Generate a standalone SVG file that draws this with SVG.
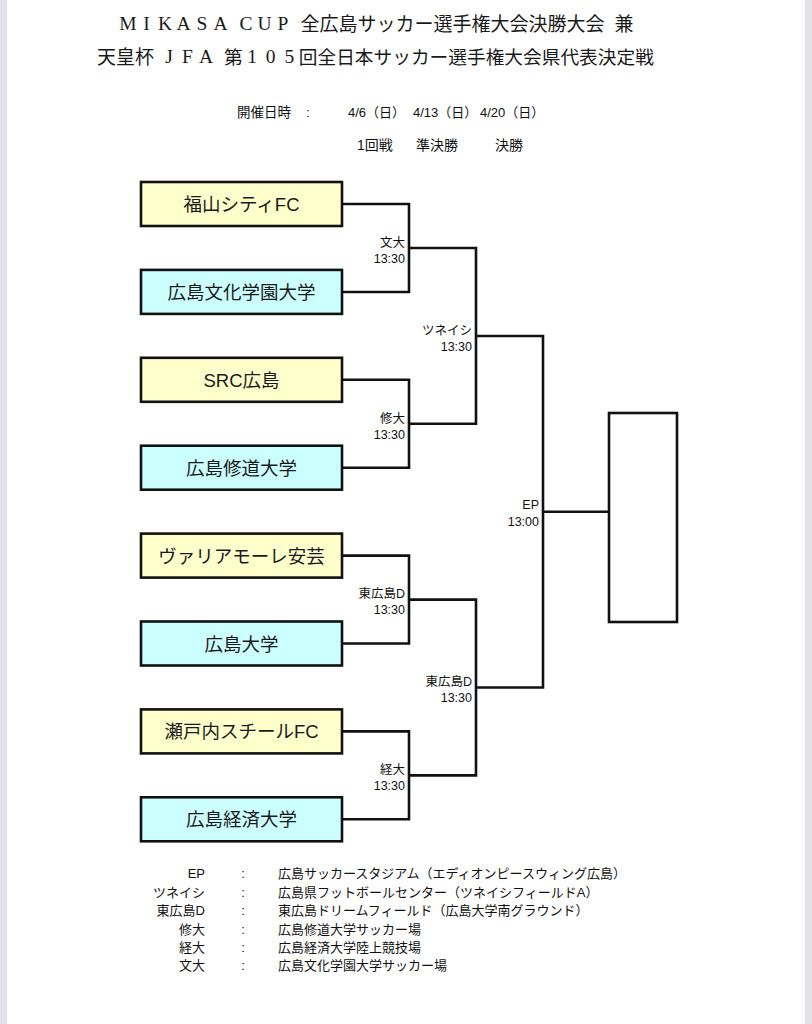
<svg xmlns="http://www.w3.org/2000/svg" width="812" height="1024" viewBox="0 0 812 1024">
  <style>
    .serif { font-family: "Liberation Serif", "Noto Sans CJK JP", serif; fill: #1a1a1a; }
    .cjkt { font-family: "Noto Sans CJK JP", "Liberation Serif", serif; fill: #1a1a1a; font-size: 19px; }
    .sans { font-family: "Liberation Sans", "Noto Sans CJK JP", sans-serif; fill: #111; }
    .team { font-family: "Liberation Sans", "Noto Sans CJK JP", sans-serif; font-size: 18.5px; fill: #1a1a1a; text-anchor: middle; }
    .lbl { font-family: "Liberation Sans", "Noto Sans CJK JP", sans-serif; font-size: 12.5px; fill: #111; text-anchor: end; }
    .leg { font-family: "Liberation Sans", "Noto Sans CJK JP", sans-serif; font-size: 13px; fill: #111; }
    .box { stroke: #111; stroke-width: 2.6; }
    .yel { fill: #FFFFCC; }
    .cya { fill: #CCFFFF; }
    .wire { fill: none; stroke: #111; stroke-width: 2.6; stroke-linejoin: miter; }
  </style>

  <rect x="0" y="0" width="812" height="1024" fill="#ffffff"/>
  <rect x="0" y="0" width="7" height="1024" fill="#e3e3e7"/>
  <rect x="805" y="0" width="7" height="1024" fill="#e3e3e7"/>

  <g id="title">
    <text class="serif" font-size="19.5" y="30" text-anchor="middle" x="128 146.5 165 183.5 202 220.5 246 264.5 283">MIKASACUP</text>
    <text class="cjkt" x="300.5" y="31">全広島サッカー選手権大会決勝大会</text>
    <text class="cjkt" x="614.5" y="31">兼</text>
    <text class="cjkt" x="97" y="64">天皇杯</text>
    <text class="serif" font-size="19.5" y="63" text-anchor="middle" x="169 187.5 206">JFA</text>
    <text class="cjkt" x="224" y="64" style="font-size:18.7px">第</text>
    <text class="serif" font-size="19.5" y="63" text-anchor="middle" x="252 270.7 289.4">105</text>
    <text class="cjkt" x="298.8" y="64" style="font-size:18.7px">回全日本サッカー選手権大会県代表決定戦</text>
  </g>

  <g id="schedule">
    <text class="sans" font-size="13.5" x="237" y="117">開催日時</text>
    <text class="sans" font-size="13.5" x="306" y="117">:</text>
    <text class="sans" font-size="13" x="348" y="117">4/6（日）</text>
    <text class="sans" font-size="13" x="413" y="117">4/13（日）</text>
    <text class="sans" font-size="13" x="480" y="117">4/20（日）</text>
    <text class="sans" font-size="14" x="357" y="150">1回戦</text>
    <text class="sans" font-size="14" x="416" y="150">準決勝</text>
    <text class="sans" font-size="14" x="495" y="150">決勝</text>
  </g>

  <g id="connectors">
    <path class="wire" d="M342 204 H409 V292 H342"/>
    <path class="wire" d="M342 379.8 H409 V467.7 H342"/>
    <path class="wire" d="M342 555.6 H409 V643.5 H342"/>
    <path class="wire" d="M342 731.4 H409 V819.3 H342"/>
    <path class="wire" d="M409 248 H476 V423.8 H409"/>
    <path class="wire" d="M409 599.6 H476 V775.4 H409"/>
    <path class="wire" d="M476 336 H543 V687.5 H476"/>
    <path class="wire" d="M543 511.8 H609"/>
  </g>

  <g id="team1"><rect class="box yel" x="141" y="182" width="201" height="44"/><text class="team" x="241.5" y="211">福山シティFC</text></g>
  <g id="team2"><rect class="box cya" x="141" y="269.9" width="201" height="44"/><text class="team" x="241.5" y="298.9">広島文化学園大学</text></g>
  <g id="team3"><rect class="box yel" x="141" y="357.8" width="201" height="44"/><text class="team" x="241.5" y="386.8">SRC広島</text></g>
  <g id="team4"><rect class="box cya" x="141" y="445.7" width="201" height="44"/><text class="team" x="241.5" y="474.7">広島修道大学</text></g>
  <g id="team5"><rect class="box yel" x="141" y="533.6" width="201" height="44"/><text class="team" x="241.5" y="562.6">ヴァリアモーレ安芸</text></g>
  <g id="team6"><rect class="box cya" x="141" y="621.5" width="201" height="44"/><text class="team" x="241.5" y="650.5">広島大学</text></g>
  <g id="team7"><rect class="box yel" x="141" y="709.4" width="201" height="44"/><text class="team" x="241.5" y="738.4">瀬戸内スチールFC</text></g>
  <g id="team8"><rect class="box cya" x="141" y="797.3" width="201" height="44"/><text class="team" x="241.5" y="826.3">広島経済大学</text></g>

  <g id="champion"><rect class="box" fill="#ffffff" x="609" y="413" width="68" height="209"/></g>

  <g id="match-labels">
    <text class="lbl" x="405" y="246.5">文大</text><text class="lbl" x="405" y="262.5">13:30</text>
    <text class="lbl" x="405" y="422.5">修大</text><text class="lbl" x="405" y="438.5">13:30</text>
    <text class="lbl" x="405" y="598">東広島D</text><text class="lbl" x="405" y="614">13:30</text>
    <text class="lbl" x="405" y="774">経大</text><text class="lbl" x="405" y="790">13:30</text>
    <text class="lbl" x="472" y="334.5">ツネイシ</text><text class="lbl" x="472" y="350.5">13:30</text>
    <text class="lbl" x="472" y="686">東広島D</text><text class="lbl" x="472" y="702">13:30</text>
    <text class="lbl" x="539" y="509">EP</text><text class="lbl" x="539" y="526">13:00</text>
  </g>

  <g id="legend">
    <text class="leg" x="205" y="878" text-anchor="end">EP</text>
    <text class="leg" x="205" y="896.5" text-anchor="end">ツネイシ</text>
    <text class="leg" x="205" y="915" text-anchor="end">東広島D</text>
    <text class="leg" x="205" y="933.5" text-anchor="end">修大</text>
    <text class="leg" x="205" y="952" text-anchor="end">経大</text>
    <text class="leg" x="205" y="970" text-anchor="end">文大</text>
    <text class="leg" x="243" y="878" text-anchor="middle">:</text>
    <text class="leg" x="243" y="896.5" text-anchor="middle">:</text>
    <text class="leg" x="243" y="915" text-anchor="middle">:</text>
    <text class="leg" x="243" y="933.5" text-anchor="middle">:</text>
    <text class="leg" x="243" y="952" text-anchor="middle">:</text>
    <text class="leg" x="243" y="970" text-anchor="middle">:</text>
    <text class="leg" x="278" y="878">広島サッカースタジアム（エディオンピースウィング広島）</text>
    <text class="leg" x="278" y="896.5">広島県フットボールセンター（ツネイシフィールドA）</text>
    <text class="leg" x="278" y="915">東広島ドリームフィールド（広島大学南グラウンド）</text>
    <text class="leg" x="278" y="933.5">広島修道大学サッカー場</text>
    <text class="leg" x="278" y="952">広島経済大学陸上競技場</text>
    <text class="leg" x="278" y="970">広島文化学園大学サッカー場</text>
  </g>
</svg>
